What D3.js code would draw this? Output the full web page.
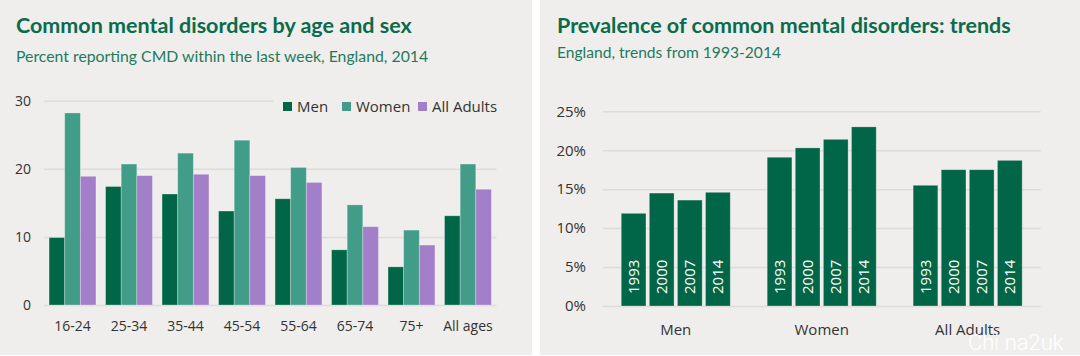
<!DOCTYPE html>
<html><head><meta charset="utf-8">
<script src="https://cdn.jsdelivr.net/npm/d3@7"></script>
<style>
html,body{margin:0;padding:0;background:#ffffff;}
svg{display:block;}
text{font-family:"Open Sans",sans-serif;}
</style></head>
<body>
<svg id="chart" width="1080" height="356"></svg>
<script>
// ---- Left chart data ----
const ageGroups = ["16-24","25-34","35-44","45-54","55-64","65-74","75+","All ages"];
const leftSeries = ["Men","Women","All Adults"];
const menByAge = [9.9,17.4,16.3,13.8,15.6,8.1,5.6,13.1];
const womenByAge = [28.2,20.7,22.3,24.2,20.2,14.7,11.0,20.7];
const allByAge = [18.9,19.0,19.2,19.0,18.0,11.5,8.8,17.0];
const leftTicks = [0,10,20,30];

// ---- Right chart data ----
const trendGroups = ["Men","Women","All Adults"];
const years = ["1993","2000","2007","2014"];
const menTrend = [11.9,14.5,13.6,14.6];
const womenTrend = [19.1,20.3,21.4,23.0];
const allTrend = [15.5,17.5,17.5,18.7];
const rightTicks = [0,5,10,15,20,25];

const svg = d3.select("#chart");
const panelBg = "#efeeec";
const titleColor = "#0b6b4b";
const subColor = "#1f7a5c";
const textColor = "#333333";
const gridColor = "#dddcda";
const colors = {"Men":"#006647","Women":"#419c88","All Adults":"#a27fc8"};

// Panels
svg.append("rect").attr("x",0).attr("y",0).attr("width",532).attr("height",355).attr("fill",panelBg);
svg.append("rect").attr("x",540).attr("y",0).attr("width",540).attr("height",355).attr("fill",panelBg);

// ---------- LEFT ----------
const L = svg.append("g");
L.append("text").attr("x",16).attr("y",33).attr("fill",titleColor)
  .style("font-family","Lato, 'Open Sans', sans-serif").style("font-weight","700").style("font-size","21.5px")
  .text("Common mental disorders by age and sex");
L.append("text").attr("x",16).attr("y",62).attr("fill",subColor)
  .style("font-family","Lato, 'Open Sans', sans-serif").style("font-size","15.8px")
  .text("Percent reporting CMD within the last week, England, 2014");

const ly = d3.scaleLinear().domain([0,30]).range([305,100.7]);
const lx0 = d3.scaleBand().domain(ageGroups).range([44,496.5]).paddingInner(0.17).paddingOuter(0.09);
const lx1 = d3.scaleBand().domain(leftSeries).range([0,lx0.bandwidth()]).padding(0);

// gridlines
L.append("g").selectAll("line").data(leftTicks).join("line")
  .attr("x1",44).attr("x2",496.5).attr("y1",d=>ly(d)+0.5).attr("y2",d=>ly(d)+0.5)
  .attr("stroke",gridColor).attr("stroke-width",1.5);
// y axis labels
const lyAxis = L.append("g").attr("transform","translate(31,0)")
  .call(d3.axisLeft(ly).tickValues(leftTicks).tickSize(0).tickPadding(0));
lyAxis.select(".domain").remove();
lyAxis.selectAll("text").attr("fill",textColor).style("font-size","14px");

const leftData = ageGroups.map((g,i)=>({group:g, values:[
  {key:"Men",v:menByAge[i]},{key:"Women",v:womenByAge[i]},{key:"All Adults",v:allByAge[i]}]}));
L.append("g").selectAll("g").data(leftData).join("g")
  .attr("transform",d=>`translate(${lx0(d.group)},0)`)
  .selectAll("rect").data(d=>d.values).join("rect")
  .attr("x",d=>lx1(d.key)).attr("width",lx1.bandwidth())
  .attr("y",d=>ly(d.v)).attr("height",d=>ly(0)-ly(d.v))
  .attr("fill",d=>colors[d.key]).attr("stroke","rgba(255,255,255,0.35)").attr("stroke-width",0.8);

// x axis labels
const lxAxis = L.append("g").attr("transform","translate(0,321)")
  .call(d3.axisBottom(lx0).tickSize(0).tickPadding(0));
lxAxis.select(".domain").remove();
lxAxis.selectAll("text").attr("fill",textColor).style("font-size","14px");

// legend
const leg = L.append("g");
leg.append("rect").attr("x",274).attr("y",92).attr("width",230).attr("height",24).attr("fill",panelBg);
const legX = [283,342,418];
leftSeries.forEach((s,i)=>{
  leg.append("rect").attr("x",legX[i]).attr("y",102).attr("width",9).attr("height",9).attr("fill",colors[s]);
  leg.append("text").attr("x",legX[i]+14).attr("y",112).attr("fill",textColor).style("font-size","15px").text(s);
});

// ---------- RIGHT ----------
const R = svg.append("g");
R.append("text").attr("x",557).attr("y",33).attr("fill",titleColor)
  .style("font-family","Lato, 'Open Sans', sans-serif").style("font-weight","700").style("font-size","21.5px")
  .text("Prevalence of common mental disorders: trends");
R.append("text").attr("x",557).attr("y",58).attr("fill",subColor)
  .style("font-family","Lato, 'Open Sans', sans-serif").style("font-size","15.6px")
  .text("England, trends from 1993-2014");

const ry = d3.scaleLinear().domain([0,25]).range([306,111.3]);
const rx0 = d3.scaleBand().domain(trendGroups).range([602.7,1040.7]).paddingInner(0.253).paddingOuter(0.127);
const rx1 = d3.scaleBand().domain(years).range([0,rx0.bandwidth()]).paddingInner(0.12).paddingOuter(0);

R.append("g").selectAll("line").data(rightTicks).join("line")
  .attr("x1",602.7).attr("x2",1040.7).attr("y1",d=>ry(d)+0.5).attr("y2",d=>ry(d)+0.5)
  .attr("stroke",gridColor).attr("stroke-width",1.5);
const ryAxis = R.append("g").attr("transform","translate(586,0)")
  .call(d3.axisLeft(ry).tickValues(rightTicks).tickFormat(d=>d+"%").tickSize(0).tickPadding(0));
ryAxis.select(".domain").remove();
ryAxis.selectAll("text").attr("fill",textColor).style("font-size","15px");

const rightData = trendGroups.map((g,i)=>({group:g, values:years.map((y,j)=>({year:y,v:[menTrend,womenTrend,allTrend][i][j]}))}));
const rg = R.append("g").selectAll("g").data(rightData).join("g")
  .attr("transform",d=>`translate(${rx0(d.group)},0)`);
rg.selectAll("rect").data(d=>d.values).join("rect")
  .attr("x",d=>rx1(d.year)).attr("width",rx1.bandwidth())
  .attr("y",d=>ry(d.v)).attr("height",d=>ry(0)-ry(d.v))
  .attr("fill","#006647").attr("stroke","rgba(255,255,255,0.35)").attr("stroke-width",0.8);
rg.selectAll("text").data(d=>d.values).join("text")
  .attr("transform",d=>`translate(${rx1(d.year)+rx1.bandwidth()/2+5.5},${ry(0)-12}) rotate(-90)`)
  .attr("fill","#ffffff").style("font-size","15px").text(d=>d.year);

const rxAxis = R.append("g").attr("transform","translate(0,324)")
  .call(d3.axisBottom(rx0).tickSize(0).tickPadding(0));
rxAxis.select(".domain").remove();
rxAxis.selectAll("text").attr("fill",textColor).style("font-size","15px");

// watermark
svg.append("text").attr("x",968).attr("y",350).attr("fill","#ffffff")
  .style("font-family","Roboto, sans-serif").style("font-weight","300").style("font-size","22px")
  .text("Chi na2uk");
</script>
</body></html>
